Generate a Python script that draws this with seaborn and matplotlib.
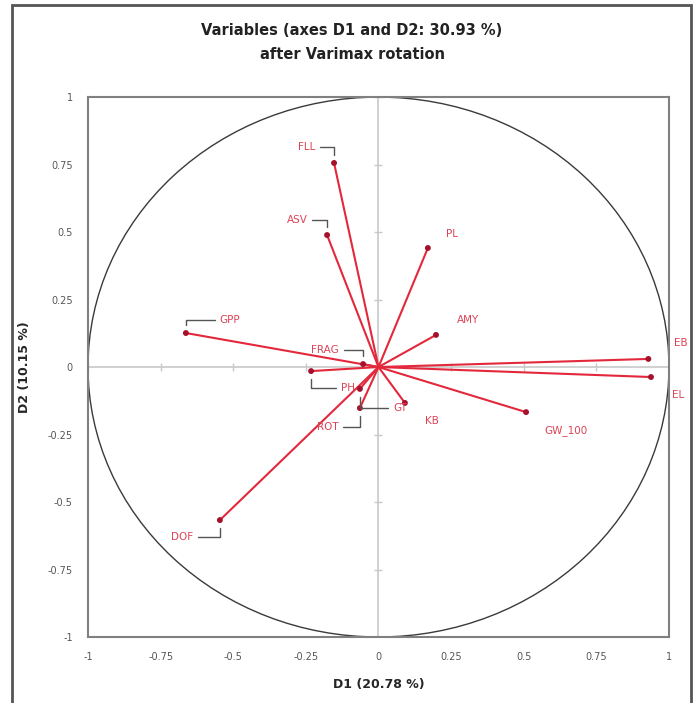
import numpy as np
import matplotlib
matplotlib.use("Agg")
import matplotlib.pyplot as plt
import seaborn as sns
import pandas as pd
from matplotlib.patches import Circle, Rectangle

sns.set_style("white")
plt.rcParams['font.family'] = ['DejaVu Sans']
plt.rcParams['axes.unicode_minus'] = False

# loadings after varimax rotation
variables = ["FLL", "ASV", "PL", "GPP", "AMY", "FRAG", "PH", "GT",
             "ROT", "KB", "DOF", "GW_100", "EB", "EL"]
d1 = [-0.153, -0.177, 0.170, -0.663, 0.198, -0.053, -0.232, -0.064,
      -0.064, 0.091, -0.546, 0.508, 0.929, 0.938]
d2 = [0.756, 0.489, 0.441, 0.126, 0.119, 0.011, -0.015, -0.081,
      -0.152, -0.133, -0.567, -0.167, 0.030, -0.037]
ticks = [-1, -0.75, -0.5, -0.25, 0, 0.25, 0.5, 0.75, 1]
tick_labels = ["-1", "-0.75", "-0.5", "-0.25", "0", "0.25", "0.5", "0.75", "1"]

# label placement (offset in pixels) and whether a leader line is drawn
label_pos = {
    "FLL": (-27, 16, True), "ASV": (-30, 15, True), "PL": (24, 14, False),
    "GPP": (44, 13, True), "AMY": (32, 15, False), "FRAG": (-38, 14, True),
    "PH": (37, -17, True), "GT": (40, -19, True), "ROT": (-32, -19, True),
    "KB": (27, -18, False), "DOF": (-38, -17, True), "GW_100": (40, -18, False),
    "EB": (32, 16, False), "EL": (27, -18, False),
}

df = pd.DataFrame({"var": variables, "D1": d1, "D2": d2})

fig = plt.figure(figsize=(7, 7.03), dpi=100)
ax = fig.add_axes([0.1257, 0.0939, 0.83, 0.768])

# correlation circle and zero axes
ax.add_patch(Circle((0, 0), 1, fill=False, color="#3a3a3a", lw=1.0, zorder=1))
ax.axhline(0, color="#c8c8c8", lw=1.2, zorder=0)
ax.axvline(0, color="#c8c8c8", lw=1.2, zorder=0)
tk = [t for t in ticks if t != 0]
ax.plot([0] * len(tk), tk, ls="none", marker="_", ms=6, color="#c8c8c8", zorder=0)
ax.plot(tk, [0] * len(tk), ls="none", marker="|", ms=6, color="#c8c8c8", zorder=0)

# vectors
for x, y in zip(d1, d2):
    ax.plot([0, x], [0, y], color="#e3283c", lw=1.5, zorder=2)
sns.scatterplot(data=df, x="D1", y="D2", color="#a5102a", s=18, edgecolor="none",
                ax=ax, zorder=3, legend=False)

for name, x, y in zip(variables, d1, d2):
    dx, dy, lead = label_pos[name]
    ap = None
    if lead:
        ap = dict(arrowstyle="-", color="#555555", lw=1.0, shrinkA=1, shrinkB=6,
                  connectionstyle="angle,angleA=0,angleB=90,rad=0")
    ax.annotate(name, xy=(x, y), xytext=(dx, dy), textcoords="offset pixels",
                ha="center", va="center", fontsize=7.5, color="#dc4357",
                arrowprops=ap, zorder=4)

ax.set_xlim(-1, 1)
ax.set_ylim(-1, 1)
ax.set_xticks(ticks)
ax.set_xticklabels(tick_labels)
ax.set_yticks(ticks)
ax.set_yticklabels(tick_labels)
ax.tick_params(length=0, labelsize=7, labelcolor="#555555", pad=11)
for s in ax.spines.values():
    s.set_color("#808080")
    s.set_linewidth(1.5)
ax.set_xlabel("D1 (20.78 %)", fontsize=9, fontweight="bold", labelpad=11)
ax.set_ylabel("D2 (10.15 %)", fontsize=9, fontweight="bold", labelpad=12)

fig.text(0.503, 0.957, "Variables (axes D1 and D2: 30.93 %)", ha="center", va="center",
         fontsize=10.5, fontweight="bold", color="#222222")
fig.text(0.503, 0.922, "after Varimax rotation", ha="center", va="center",
         fontsize=10.5, fontweight="bold", color="#222222")

fig.patches.append(Rectangle((0.017, -0.01), 0.970, 1.003, transform=fig.transFigure,
                             fill=False, edgecolor="#555555", lw=2))

fig.savefig("out.png", dpi=100)
